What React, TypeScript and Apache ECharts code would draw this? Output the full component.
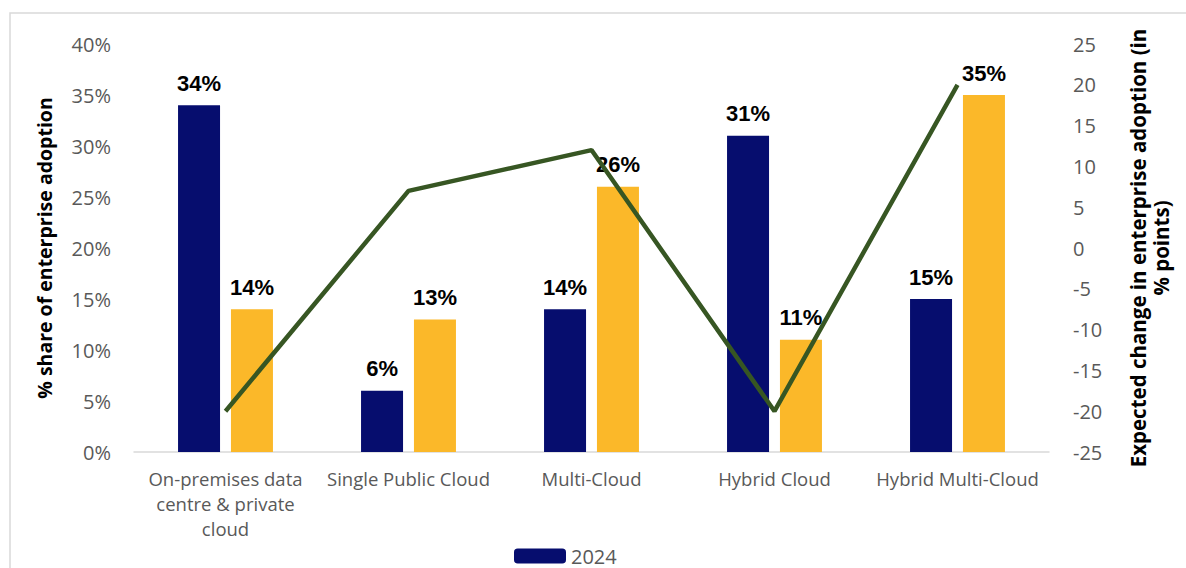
import React, { useEffect, useRef } from "react";
import * as echarts from "echarts";

const categories = [
  "On-premises data\ncentre & private\ncloud",
  "Single Public Cloud",
  "Multi-Cloud",
  "Hybrid Cloud",
  "Hybrid Multi-Cloud",
];
const share2024 = [34, 6, 14, 31, 15];
const shareExpected = [14, 13, 26, 11, 35];
const expectedChange = [-20, 7, 12, -20, 20];
const leftTicks = [0, 5, 10, 15, 20, 25, 30, 35, 40];

export default function App() {
  const ref = useRef<HTMLDivElement>(null);
  useEffect(() => {
    if (!ref.current) return;
    const chart = echarts.init(ref.current, null, { renderer: "svg" });
    const axisFont = { fontFamily: "Open Sans", fontSize: 20, color: "#595959" };
    const labelStyle = {
      show: true,
      position: "top" as const,
      distance: 11,
      formatter: (p: any) => p.value + "%",
      fontFamily: "Liberation Sans, Arial",
      fontWeight: "bold" as const,
      fontSize: 22,
      color: "#000000",
    };
    chart.setOption({
      animation: false,
      backgroundColor: "#ffffff",
      graphic: [
        {
          type: "rect",
          shape: { x: 10, y: 13, width: 1200, height: 600 },
          style: { fill: "none", stroke: "#d9d9d9", lineWidth: 1.5 },
          silent: true,
          z: -10,
        },
      ],
      legend: {
        data: ["2024"],
        left: 509,
        top: 541,
        itemWidth: 52,
        itemHeight: 15,
        itemGap: 6,
        textStyle: { ...axisFont, fontSize: 20 },
      },
      grid: { left: 134, top: 44, width: 915, height: 408, containLabel: false },
      xAxis: {
        type: "category",
        data: categories,
        axisLine: { show: true, lineStyle: { color: "#d9d9d9", width: 1.5 } },
        axisTick: { show: false },
        axisLabel: { ...axisFont, fontSize: 18.5, lineHeight: 25, margin: 14, interval: 0 },
      },
      yAxis: [
        {
          type: "value",
          min: 0,
          max: 40,
          interval: 5,
          axisLabel: {
            ...axisFont,
            margin: 23,
            formatter: (v: number) => (leftTicks.includes(v) ? v + "%" : ""),
          },
          axisLine: { show: false },
          axisTick: { show: false },
          splitLine: { show: false },
          name: "% share of enterprise adoption",
          nameLocation: "middle",
          nameRotate: 90,
          nameGap: 80,
          nameTextStyle: { fontFamily: "Open Sans", fontWeight: "bold", fontSize: 19.5, color: "#000000" },
        },
        {
          type: "value",
          position: "right",
          min: -25,
          max: 25,
          interval: 5,
          axisLabel: { ...axisFont, margin: 24 },
          axisLine: { show: false },
          axisTick: { show: false },
          splitLine: { show: false },
          name: "Expected change in enterprise adoption (in\n% points)",
          nameLocation: "middle",
          nameRotate: 90,
          nameGap: 77,
          nameTextStyle: {
            fontFamily: "Open Sans",
            fontWeight: "bold",
            fontSize: 20.5,
            color: "#000000",
            lineHeight: 23,
            align: "center",
          },
        },
      ],
      series: [
        {
          name: "2024",
          type: "bar",
          data: share2024,
          barWidth: 42,
          barGap: "26%",
          itemStyle: { color: "#060d6e" },
          label: labelStyle,
          z: 2,
        },
        {
          name: "Expected",
          type: "bar",
          data: shareExpected,
          barWidth: 42,
          barGap: "26%",
          itemStyle: { color: "#fbb829" },
          label: labelStyle,
          z: 2,
        },
        {
          name: "Expected change",
          type: "line",
          yAxisIndex: 1,
          data: expectedChange,
          symbol: "none",
          lineStyle: { color: "#375623", width: 4.5 },
          z: 5,
        },
      ],
    });
    return () => chart.dispose();
  }, []);
  return <div ref={ref} style={{ width: 1186, height: 568, position: "absolute", left: 0, top: 0 }} />;
}
